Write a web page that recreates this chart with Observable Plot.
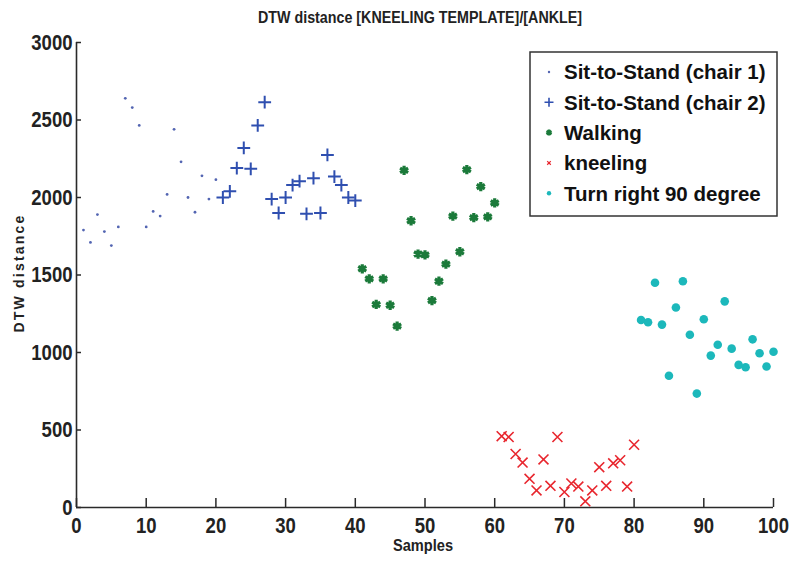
<!DOCTYPE html>
<html><head><meta charset="utf-8">
<script src="https://cdn.jsdelivr.net/npm/d3@7"></script>
<script src="https://cdn.jsdelivr.net/npm/@observablehq/plot@0.6"></script>
<style>body{margin:0;background:#fff;} #chart{width:800px;height:569px;}</style>
</head><body><div id="chart"></div>
<script>
const titleText = "DTW distance [KNEELING TEMPLATE]/[ANKLE]";
const xLabel = "Samples";
const yLabel = "DTW distance";
const seriesNames = ["Sit-to-Stand (chair 1)", "Sit-to-Stand (chair 2)", "Walking", "kneeling", "Turn right 90 degree"];
const xTicks = [0, 10, 20, 30, 40, 50, 60, 70, 80, 90, 100];
const yTicks = [0, 500, 1000, 1500, 2000, 2500, 3000];

const chair1X = [1, 2, 3, 4, 5, 6, 7, 8, 9, 10, 11, 12, 13, 14, 15, 16, 17, 18, 19, 20];
const chair1Y = [1790, 1710, 1890, 1780, 1690, 1810, 2640, 2580, 2465, 1810, 1910, 1880, 2020, 2440, 2230, 2000, 1905, 2140, 1990, 2115];

const chair2X = [21, 22, 23, 24, 25, 26, 27, 28, 29, 30, 31, 32, 33, 34, 35, 36, 37, 38, 39, 40];
const chair2Y = [2000, 2040, 2190, 2320, 2185, 2465, 2615, 1990, 1900, 2000, 2080, 2105, 1895, 2125, 1900, 2275, 2135, 2080, 2000, 1980];

const walkX = [41, 42, 43, 44, 45, 46, 47, 48, 49, 50, 51, 52, 53, 54, 55, 56, 57, 58, 59, 60];
const walkY = [1540, 1475, 1310, 1475, 1305, 1170, 2175, 1850, 1635, 1630, 1335, 1460, 1570, 1880, 1650, 2180, 1870, 2070, 1875, 1965];

const kneelX = [61, 62, 63, 64, 65, 66, 67, 68, 69, 70, 71, 72, 73, 74, 75, 76, 77, 78, 79, 80];
const kneelY = [460, 455, 345, 290, 185, 110, 310, 140, 455, 100, 155, 135, 40, 110, 260, 140, 285, 305, 135, 405];

const turnX = [81, 82, 83, 84, 85, 86, 87, 88, 89, 90, 91, 92, 93, 94, 95, 96, 97, 98, 99, 100];
const turnY = [1210, 1195, 1450, 1180, 850, 1290, 1460, 1115, 735, 1215, 980, 1050, 1330, 1025, 920, 905, 1085, 995, 910, 1005];

const toRows = (xs, ys) => xs.map((x, i) => ({x, y: ys[i]}));
const chair1 = toRows(chair1X, chair1Y);
const chair2 = toRows(chair2X, chair2Y);
const walk = toRows(walkX, walkY);
const kneel = toRows(kneelX, kneelY);
const turn = toRows(turnX, turnY);

const W = 800, H = 569, mL = 76, mR = 27, mT = 42, mB = 62;
const innerW = W - mL - mR, innerH = H - mT - mB;
const axisColor = "#2a2a2a";
const colors = {c1: "#5365b2", c2: "#2f4fb0", walk: "#1b7a3a", kneel: "#e8262e", turn: "#1cb8bb"};
const boldFont = "'Liberation Sans', Arial, sans-serif";

const plot = Plot.plot({
  width: W, height: H,
  marginLeft: mL, marginRight: mR, marginTop: mT, marginBottom: mB,
  x: {domain: [0, 100]},
  y: {domain: [0, 3000]},
  style: {fontFamily: boldFont, fontWeight: "bold", fontSize: "22px", color: "#222", background: "#fff"},
  marks: [
    Plot.axisX(xTicks, {tickSize: 0, tickPadding: 10, label: null, tickFormat: d => String(d)}),
    Plot.axisY(yTicks, {tickSize: 0, tickPadding: 4, label: null, tickFormat: d => String(d)}),
    Plot.tickX(xTicks, {x: d => d, insetTop: innerH - 9, stroke: axisColor, strokeWidth: 1.5}),
    Plot.tickY(yTicks, {y: d => d, insetRight: innerW - 5, stroke: axisColor, strokeWidth: 1.5}),
    Plot.ruleX([0], {stroke: axisColor, strokeWidth: 1.6}),
    Plot.ruleY([0], {stroke: axisColor, strokeWidth: 1.6}),
    Plot.dot(chair1, {x: "x", y: "y", r: 1.4, fill: colors.c1, stroke: null}),
    Plot.dot(chair2, {x: "x", y: "y", symbol: "plus", r: 4.2, stroke: colors.c2, strokeWidth: 2}),
    Plot.dot(walk, {x: "x", y: "y", symbol: "asterisk", r: 4.4, stroke: colors.walk, strokeWidth: 3.2}),
    Plot.dot(kneel, {x: "x", y: "y", symbol: "times", r: 4.6, stroke: colors.kneel, strokeWidth: 1.6}),
    Plot.dot(turn, {x: "x", y: "y", r: 4.3, fill: colors.turn, stroke: null})
  ]
});
document.getElementById("chart").appendChild(plot);

const svg = d3.select(plot);
// narrow the tick labels like the condensed font of the original
svg.selectAll("g[aria-label='x-axis tick label'] text, g[aria-label='y-axis tick label'] text")
  .each(function() {
    const n = this.textContent.length;
    d3.select(this).attr("textLength", n * 10.3).attr("lengthAdjust", "spacingAndGlyphs");
  });

svg.append("text").attr("x", 420).attr("y", 23).attr("text-anchor", "middle")
  .attr("textLength", 324).attr("lengthAdjust", "spacingAndGlyphs")
  .style("font-family", boldFont).style("font-weight", "bold").style("font-size", "16px").style("fill", "#222")
  .text(titleText);
svg.append("text").attr("x", 423).attr("y", 551).attr("text-anchor", "middle")
  .attr("textLength", 60).attr("lengthAdjust", "spacingAndGlyphs")
  .style("font-family", boldFont).style("font-weight", "bold").style("font-size", "16px").style("fill", "#222")
  .text(xLabel);
svg.append("text").attr("transform", "translate(24,273) rotate(-90)").attr("text-anchor", "middle")
  .style("font-family", boldFont).style("font-weight", "bold").style("font-size", "14px")
  .style("letter-spacing", "2.2px").style("fill", "#222")
  .text(yLabel);

// legend
const lg = svg.append("g");
lg.append("rect").attr("x", 530).attr("y", 52).attr("width", 247).attr("height", 164)
  .attr("fill", "#fff").attr("stroke", "#333").attr("stroke-width", 1.5);
const legendSyms = [
  {sym: d3.symbolCircle, r: 1.2, fill: colors.c1, stroke: "none", sw: 0},
  {sym: d3.symbolPlus, r: 3, fill: "none", stroke: colors.c2, sw: 1.6},
  {sym: d3.symbolAsterisk, r: 2.8, fill: "none", stroke: colors.walk, sw: 2.6},
  {sym: d3.symbolTimes, r: 1.8, fill: "none", stroke: colors.kneel, sw: 1.2},
  {sym: d3.symbolCircle, r: 2.2, fill: colors.turn, stroke: "none", sw: 0}
];
seriesNames.forEach((name, i) => {
  const cy = 72 + i * 30.3;
  const s = legendSyms[i];
  lg.append("path").attr("transform", `translate(549,${cy})`)
    .attr("d", d3.symbol(s.sym, Math.PI * s.r * s.r)())
    .attr("fill", s.fill).attr("stroke", s.stroke).attr("stroke-width", s.sw);
  lg.append("text").attr("x", 564).attr("y", cy).attr("dy", "0.36em").attr("text-anchor", "start")
    .style("font-family", boldFont).style("font-weight", "bold")
    .style("font-size", "20.5px").style("fill", "#111")
    .text(name);
});
</script></body></html>
